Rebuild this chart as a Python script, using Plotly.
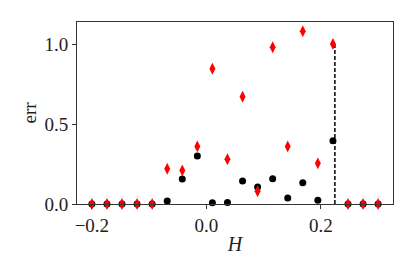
import numpy as np
import plotly.graph_objects as go

# H values (20 equally spaced samples)
H = [-0.2, -0.1737, -0.1474, -0.1211, -0.0947, -0.0684, -0.0421, -0.0158,
     0.0105, 0.0368, 0.0632, 0.0895, 0.1158, 0.1421, 0.1684, 0.1947,
     0.2211, 0.2474, 0.2737, 0.3]
err_black = [0, 0, 0, 0, 0, 0.019, 0.156, 0.30, 0.008, 0.01, 0.144, 0.106,
             0.158, 0.037, 0.133, 0.023, 0.396, 0, 0, 0]
err_red = [0, 0, 0, 0, 0, 0.22, 0.21, 0.36, 0.845, 0.28, 0.67, 0.08,
           0.98, 0.36, 1.08, 0.254, 1.0, 0, 0, 0]
H_crit = 0.2245
crit_y = [0, 1.0]
xticks = [-0.2, 0.0, 0.2]
yticks = [0.0, 0.5, 1.0]

fig = go.Figure()
fig.add_trace(go.Scatter(x=[H_crit, H_crit], y=crit_y, mode="lines",
                         line=dict(color="black", width=1.5, dash="4px,2px"),
                         showlegend=False))
fig.add_trace(go.Scatter(x=H, y=err_black, mode="markers",
                         marker=dict(symbol="circle", size=7, color="black"),
                         showlegend=False, cliponaxis=False))
fig.add_trace(go.Scatter(x=H, y=err_red, mode="markers",
                         marker=dict(symbol="diamond-tall", size=8.5, color="red"),
                         showlegend=False, cliponaxis=False))

font = "Liberation Serif"
fig.update_layout(
    width=415, height=277,
    margin=dict(l=77, r=22, t=22, b=73, autoexpand=False),
    plot_bgcolor="white", paper_bgcolor="white",
    font=dict(family=font, size=19, color="#222"),
)
fig.update_xaxes(range=[-0.226, 0.326], tickvals=xticks, tickformat=".1f",
                 ticks="outside", ticklen=4, tickcolor="#333", automargin=False,
                 showline=True, linecolor="#333", linewidth=1, mirror=True,
                 showgrid=False, zeroline=False,
                 title=dict(text="<i>H</i>", font=dict(size=20), standoff=2))
fig.update_yaxes(range=[0, 1.1375], tickvals=yticks, tickformat=".1f",
                 ticks="outside", ticklen=4, tickcolor="#333", automargin=False,
                 showline=True, linecolor="#333", linewidth=1, mirror=True,
                 showgrid=False, zeroline=False,
                 title=dict(text="err", font=dict(size=19), standoff=2))

fig.write_html("out.html", config={"displayModeBar": False},
               post_script="document.body.style.margin='0';document.body.style.overflow='hidden';")
